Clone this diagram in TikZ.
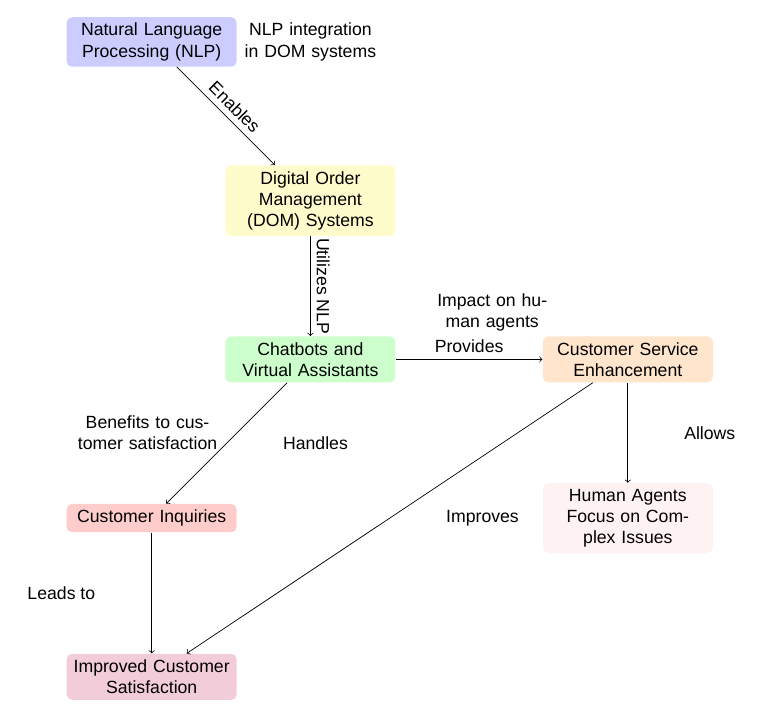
\documentclass[tikz,border=0pt]{standalone}
\usepackage{fontspec}
\setmainfont{Liberation Sans}
\usepackage{tikz}
\usetikzlibrary{positioning}

\begin{document}
\begin{tikzpicture}[
    box/.style={rounded corners=3pt, text width=3.15cm, align=center},
    note/.style={text width=2.65cm, align=center},
    arrow/.style={->}
  ]
    \useasboundingbox (-3.02,0.835) rectangle (12.41,-13.42);

    % Source
    \node[box, fill=blue!20] (nlp) at (0,0) {Natural Language Processing (NLP)};
    \node[note] (nlpnote) at (3.16,0) {NLP integration in DOM systems};

    % Systems
    \node[box, fill=yellow!20] (dom) at (3.16,-3.16) {Digital Order Management (DOM) Systems};
    \node[box, fill=green!20] (chat) at (3.16,-6.32) {Chatbots and Virtual Assistants};
    \node[box, fill=orange!20] (cse) at (9.48,-6.32) {Customer Service Enhancement};
    \node[note] (impact) at (6.78,-5.39) {Impact on hu-\\man agents};

    % Outcomes
    \node[box, fill=red!20] (inq) at (0,-9.48) {Customer Inquiries};
    \node[box, fill=pink!20] (human) at (9.48,-9.48) {Human Agents Focus on Complex Issues};
    \node[box, fill=purple!20] (sat) at (0,-12.64) {Improved Customer Satisfaction};

    % Arrows
    \draw[arrow] (nlp) -- node[midway, above, sloped] {Enables} (dom);
    \draw[arrow] (dom) -- node[midway, above, sloped] {Utilizes NLP} (chat);
    \draw[arrow] (chat) -- node[midway, above] {Provides} (cse);
    \draw[arrow] (chat) -- node[midway, left, yshift=6pt, note, text width=2.9cm]
      {Benefits to customer satisfaction}
      node[midway, right=1cm] {Handles} (inq);
    \draw[arrow] (cse) -- node[midway, right=1cm] {Allows} (human);
    \draw[arrow] (cse) -- node[midway, right=1cm] {Improves} (sat);
    \draw[arrow] (inq) -- node[midway, left=1cm] {Leads to} (sat);
  \end{tikzpicture}
\end{document}
